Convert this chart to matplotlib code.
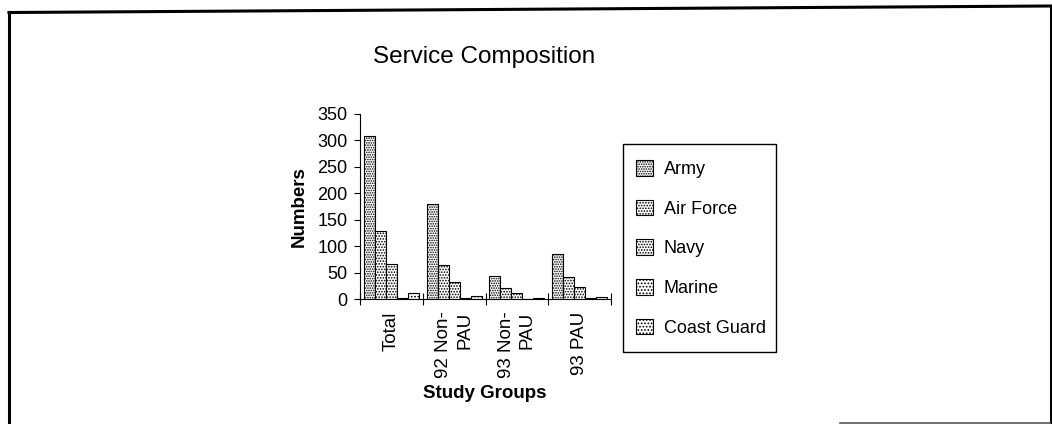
import matplotlib
matplotlib.use("Agg")
import matplotlib.pyplot as plt
from matplotlib.lines import Line2D
from matplotlib.patches import Rectangle
import numpy as np

plt.rcParams['font.family'] = ['Liberation Sans', 'DejaVu Sans']
plt.rcParams['hatch.linewidth'] = 0.8

groups = ["Total", "92 Non-\nPAU", "93 Non-\nPAU", "93 PAU"]
series = ["Army", "Air Force", "Navy", "Marine", "Coast Guard"]
army = [308, 180, 44, 86]
air_force = [128, 65, 21, 42]
navy = [66, 33, 11, 22]
marine = [2, 1, 0, 1]
coast_guard = [11, 6, 2, 3]
values = [army, air_force, navy, marine, coast_guard]
hatches = ['.......', '......', '......', '.....', '.....']
yticks = [0, 50, 100, 150, 200, 250, 300, 350]

W, H = 1052, 424
fig = plt.figure(figsize=(W / 100, H / 100), dpi=100)

def fx(px):
    return px / W

def fy(py):
    return 1 - py / H

ax = fig.add_axes([fx(360), fy(299), fx(611) - fx(360), fy(114) - fy(299)])

bw = 0.175
x = np.arange(len(groups))
handles = []
for i, (name, vals) in enumerate(zip(series, values)):
    b = ax.bar(x + (i - 2) * bw, vals, width=bw, color='white', edgecolor='black',
               linewidth=0.8, hatch=hatches[i], label=name)
    handles.append(b)

ax.set_xlim(-0.5, len(groups) - 0.5)
ax.set_ylim(0, 350)
ax.set_yticks(yticks)
ax.set_yticklabels([str(v) for v in yticks], fontsize=13)
ax.tick_params(axis='y', direction='out', length=4, width=0.8, pad=5)

ax.set_xticks(np.arange(len(groups) + 1) - 0.5)
ax.set_xticklabels([])
ax.tick_params(axis='x', which='major', direction='inout', length=8, width=0.8)
ax.set_xticks(x, minor=True)
ax.set_xticklabels(groups, minor=True, rotation=90, fontsize=13.5,
                   ha='center', va='top', multialignment='right', linespacing=1.3)
ax.tick_params(axis='x', which='minor', length=0, pad=9)

for s in ['top', 'right']:
    ax.spines[s].set_visible(False)
for s in ['left', 'bottom']:
    ax.spines[s].set_linewidth(0.8)

ax.set_ylabel("Numbers", fontsize=13.5, fontweight='bold')
ax.yaxis.set_label_coords((308 - 360) / 251, 0.5)
ax.set_xlabel("Study Groups", fontsize=13.5, fontweight='bold')
ax.xaxis.set_label_coords((484.5 - 360) / 251, (299 - 385) / 185)

fig.text(fx(484), fy(57), "Service Composition", fontsize=17.5, ha='center', va='center')

# legend frame drawn separately at exact place
fig.add_artist(Rectangle((fx(623), fy(352)), fx(776) - fx(623), fy(144) - fy(352),
                         transform=fig.transFigure, facecolor='white', edgecolor='black',
                         linewidth=1.0, zorder=1))
leg = fig.legend(handles=handles, labels=series, loc='upper left',
                 bbox_to_anchor=(fx(636), fy(160)), bbox_transform=fig.transFigure,
                 borderaxespad=0, borderpad=0, fontsize=13, labelspacing=1.2,
                 handlelength=0.95, handleheight=0.95, handletextpad=0.6,
                 frameon=False)
leg.set_zorder(2)

# outer frame
fig.add_artist(Line2D([fx(9.5), fx(9.5)], [fy(424), fy(12.5)], color='black', linewidth=2.2))
fig.add_artist(Line2D([fx(9), fx(1050.5)], [fy(12.5), fy(6)], color='black', linewidth=2.2))
fig.add_artist(Line2D([fx(1050.5), fx(1050.5)], [fy(6), fy(424)], color='black', linewidth=2.2))
fig.add_artist(Line2D([fx(840), fx(1050)], [fy(423), fy(423)], color='#555555', linewidth=1.2))

fig.savefig("out.png", dpi=100)
